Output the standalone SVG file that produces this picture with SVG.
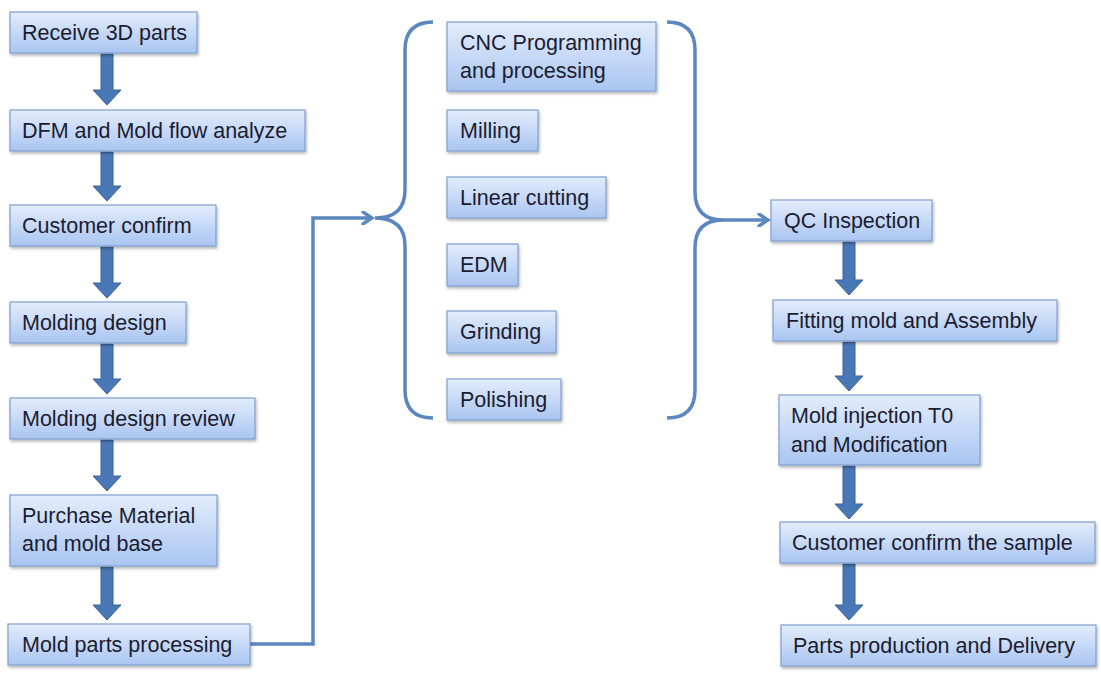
<svg xmlns="http://www.w3.org/2000/svg" width="1101" height="700" viewBox="0 0 1101 700">
<defs>
<linearGradient id="bg" x1="0" y1="0" x2="0" y2="1">
<stop offset="0" stop-color="#e3edfc"/>
<stop offset="1" stop-color="#a9c5f1"/>
</linearGradient>
<filter id="sh" x="-10%" y="-20%" width="130%" height="160%">
<feDropShadow dx="1" dy="2" stdDeviation="1.5" flood-color="#000" flood-opacity="0.3"/>
</filter>
<marker id="open" markerWidth="14" markerHeight="14" refX="11" refY="7" orient="auto" markerUnits="userSpaceOnUse">
<path d="M2,1 L11,7 L2,13" fill="none" stroke="#5b87bf" stroke-width="3.5" stroke-linecap="round"/>
</marker>
</defs>
<style>
.box{fill:url(#bg);stroke:#7f9fcf;stroke-width:1.2;filter:url(#sh)}
.t{font-family:"Liberation Sans",Arial,sans-serif;font-size:21.5px;fill:#1c1c30}
.ln{fill:none;stroke:#5b87bf;stroke-width:3.5}
.fa{fill:#4a78b6;stroke:#3b6399;stroke-width:1}
</style>
<rect width="1101" height="700" fill="#fff"/>
<g id="connectors">
<g class="fa">
<path d="M101,54 L113,54 L113,90 L121,90 L107,105 L93,90 L101,90 Z"/>
<path d="M101,152 L113,152 L113,186 L121,186 L107,201 L93,186 L101,186 Z"/>
<path d="M101,247 L113,247 L113,283 L121,283 L107,298 L93,283 L101,283 Z"/>
<path d="M101,344 L113,344 L113,379 L121,379 L107,394 L93,379 L101,379 Z"/>
<path d="M101,440 L113,440 L113,476 L121,476 L107,491 L93,476 L101,476 Z"/>
<path d="M101,567 L113,567 L113,605 L121,605 L107,620 L93,605 L101,605 Z"/>
<path d="M843,242 L855,242 L855,280 L863,280 L849,295 L835,280 L843,280 Z"/>
<path d="M843,342 L855,342 L855,376 L863,376 L849,391 L835,376 L843,376 Z"/>
<path d="M843,466 L855,466 L855,504 L863,504 L849,519 L835,504 L843,504 Z"/>
<path d="M843,564 L855,564 L855,605 L863,605 L849,620 L835,605 L843,605 Z"/>
</g>
<path class="ln" d="M250,644 L313,644 L313,218 L372,218" marker-end="url(#open)"/>
<path class="ln" d="M433,22 Q405,22 405,50 L405,190 Q405,218 375,218 Q405,218 405,246 L405,390 Q405,418 433,418"/>
<path class="ln" d="M667,22 Q695,22 695,50 L695,192 Q695,220 723,220 Q695,220 695,248 L695,390 Q695,418 667,418"/>
<path class="ln" d="M723,220 L768,220" marker-end="url(#open)"/>
</g>
<g id="n1"><rect class="box" x="10" y="12" width="187" height="41"/><text class="t" x="22" y="40">Receive 3D parts</text></g>
<g id="n2"><rect class="box" x="10" y="110" width="295" height="41"/><text class="t" x="22" y="138">DFM and Mold flow analyze</text></g>
<g id="n3"><rect class="box" x="10" y="205" width="206" height="41"/><text class="t" x="22" y="233">Customer confirm</text></g>
<g id="n4"><rect class="box" x="10" y="302" width="176" height="41"/><text class="t" x="22" y="330">Molding design</text></g>
<g id="n5"><rect class="box" x="10" y="398" width="245" height="41"/><text class="t" x="22" y="426">Molding design review</text></g>
<g id="n6"><rect class="box" x="10" y="495" width="207" height="71"/><text class="t" x="22" y="523">Purchase Material</text><text class="t" x="22" y="551">and mold base</text></g>
<g id="n7"><rect class="box" x="8" y="624" width="242" height="41"/><text class="t" x="22" y="652">Mold parts processing</text></g>
<g id="m1"><rect class="box" x="447" y="22" width="209" height="69"/><text class="t" x="460" y="50">CNC Programming</text><text class="t" x="460" y="78">and processing</text></g>
<g id="m2"><rect class="box" x="447" y="110" width="91" height="41"/><text class="t" x="460" y="138">Milling</text></g>
<g id="m3"><rect class="box" x="447" y="177" width="159" height="41"/><text class="t" x="460" y="205">Linear cutting</text></g>
<g id="m4"><rect class="box" x="447" y="244" width="71" height="42"/><text class="t" x="460" y="272">EDM</text></g>
<g id="m5"><rect class="box" x="447" y="311" width="109" height="42"/><text class="t" x="460" y="339">Grinding</text></g>
<g id="m6"><rect class="box" x="447" y="379" width="114" height="41"/><text class="t" x="460" y="407">Polishing</text></g>
<g id="r1"><rect class="box" x="771" y="200" width="161" height="41"/><text class="t" x="784" y="228">QC Inspection</text></g>
<g id="r2"><rect class="box" x="773" y="300" width="284" height="41"/><text class="t" x="786" y="328">Fitting mold and Assembly</text></g>
<g id="r3"><rect class="box" x="779" y="395" width="201" height="70"/><text class="t" x="791" y="423">Mold injection T0</text><text class="t" x="791" y="452">and Modification</text></g>
<g id="r4"><rect class="box" x="780" y="522" width="315" height="41"/><text class="t" x="792" y="550">Customer confirm the sample</text></g>
<g id="r5"><rect class="box" x="781" y="625" width="315" height="41"/><text class="t" x="793" y="653">Parts production and Delivery</text></g>
</svg>
